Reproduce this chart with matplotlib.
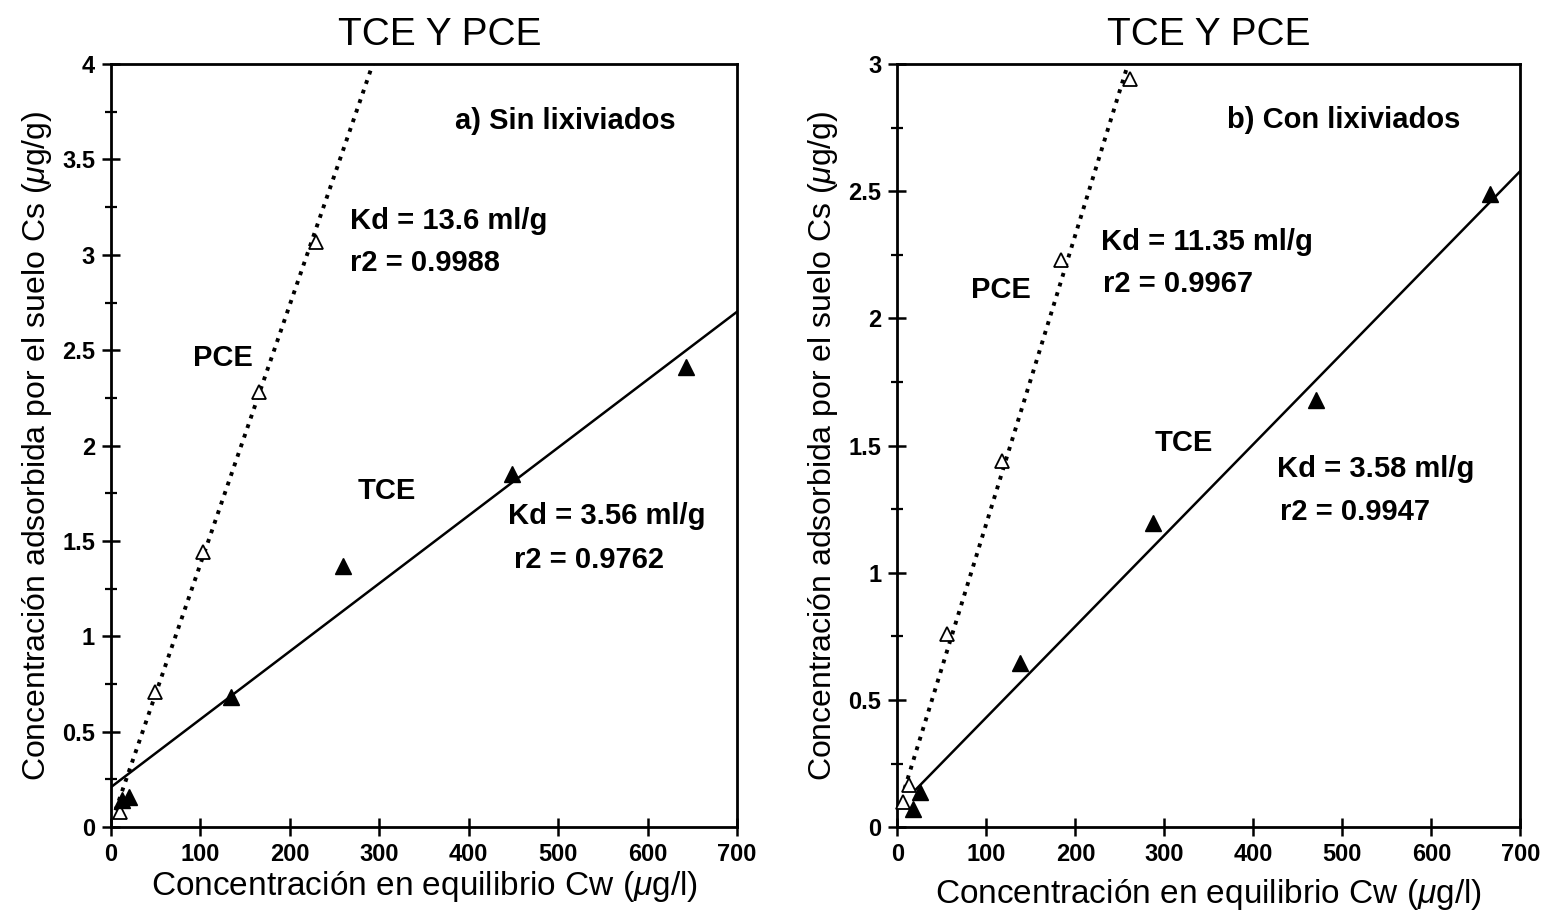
import numpy as np
import matplotlib
matplotlib.use("Agg")
import matplotlib.pyplot as plt
from matplotlib.ticker import MultipleLocator

plt.rcParams['font.family'] = ['Liberation Sans', 'DejaVu Sans']
plt.rcParams['mathtext.fontset'] = 'custom'
plt.rcParams['mathtext.it'] = 'Liberation Sans:italic'
plt.rcParams['mathtext.rm'] = 'Liberation Sans'

# a) Sin lixiviados
pce_a_x = [10, 49, 103, 166, 229]
pce_a_y = [0.08, 0.71, 1.44, 2.28, 3.07]
tce_a_x = [12, 20, 134, 259, 448, 643]
tce_a_y = [0.14, 0.16, 0.68, 1.37, 1.85, 2.41]
kd_pce_a, b_pce_a = 13.6, 0.02
kd_tce_a, b_tce_a = 3.56, 0.21

# b) Con lixiviados
pce_b_x = [6, 13, 56, 117, 184, 261]
pce_b_y = [0.10, 0.165, 0.76, 1.44, 2.23, 2.94]
tce_b_x = [18, 25, 138, 287, 470, 666]
tce_b_y = [0.07, 0.14, 0.645, 1.195, 1.68, 2.49]
kd_pce_b, b_pce_b = 11.35, 0.06
kd_tce_b, b_tce_b = 3.58, 0.074

fig = plt.figure(figsize=(15.42, 9.16), dpi=100)
ax1 = fig.add_axes([0.072, 0.097, 0.406, 0.833])
ax2 = fig.add_axes([0.582, 0.097, 0.404, 0.833])


def style_axes(ax, ymax, xlpad, title_x):
    ax.set_xlim(0, 700)
    ax.set_ylim(0, ymax)
    ax.xaxis.set_major_locator(MultipleLocator(100))
    ax.yaxis.set_major_locator(MultipleLocator(0.5))
    ax.yaxis.set_minor_locator(MultipleLocator(0.25))
    ax.yaxis.set_major_formatter(plt.FuncFormatter(lambda v, p: f"{v:g}"))
    ax.tick_params(axis='both', which='major', direction='inout', length=13,
                   width=1.8, labelsize=17, pad=5)
    ax.tick_params(axis='y', which='minor', direction='inout', length=8, width=1.6)
    for lab in ax.get_xticklabels() + ax.get_yticklabels():
        lab.set_fontweight('bold')
    for s in ax.spines.values():
        s.set_linewidth(2.0)
    ax.set_title('TCE Y PCE', fontsize=28, pad=14, x=title_x)
    ax.set_xlabel(r'Concentración en equilibrio Cw ($\mathit{\mu}$g/l)', fontsize=24, labelpad=xlpad)
    ax.set_ylabel(r'Concentración adsorbida por el suelo Cs ($\mathit{\mu}$g/g)', fontsize=23, labelpad=6)


def draw(ax, px, py, tx, ty, kp, bp, kt, bt, xp0, xt0):
    xl = np.array([xp0, 700])
    ax.plot(xl, bp + kp / 1000 * xl, linestyle=(0, (1, 1.6)), color='black', lw=2.8, zorder=2)
    xl = np.array([xt0, 700])
    ax.plot(xl, bt + kt / 1000 * xl, '-', color='black', lw=1.8, zorder=2)
    ax.plot(px, py, '^', ms=10, mfc='white', mec='black', mew=1.3, ls='none', zorder=3, clip_on=False)
    ax.plot(tx, ty, '^', ms=12, mfc='black', mec='black', ls='none', zorder=3, clip_on=False)


draw(ax1, pce_a_x, pce_a_y, tce_a_x, tce_a_y, kd_pce_a, b_pce_a, kd_tce_a, b_tce_a, 5, 0)
draw(ax2, pce_b_x, pce_b_y, tce_b_x, tce_b_y, kd_pce_b, b_pce_b, kd_tce_b, b_tce_b, 8, 20)
style_axes(ax1, 4, 2, 0.525)
style_axes(ax2, 3, 8, 0.5)

tk = dict(fontsize=21, fontweight='bold', ha='left', va='center')
ax1.text(385, 3.70, 'a) Sin lixiviados', **tk)
ax1.text(267, 3.18, 'Kd = 13.6 ml/g', **tk)
ax1.text(267, 2.96, 'r2 = 0.9988', **tk)
ax1.text(92, 2.46, 'PCE', **tk)
ax1.text(276, 1.76, 'TCE', **tk)
ax1.text(444, 1.63, 'Kd = 3.56 ml/g', **tk)
ax1.text(451, 1.40, 'r2 = 0.9762', **tk)

ax2.text(370, 2.78, 'b) Con lixiviados', **tk)
ax2.text(229, 2.30, 'Kd = 11.35 ml/g', **tk)
ax2.text(231, 2.135, 'r2 = 0.9967', **tk)
ax2.text(83, 2.11, 'PCE', **tk)
ax2.text(289, 1.51, 'TCE', **tk)
ax2.text(427, 1.41, 'Kd = 3.58 ml/g', **tk)
ax2.text(430, 1.24, 'r2 = 0.9947', **tk)

fig.savefig('out.png', dpi=100)
